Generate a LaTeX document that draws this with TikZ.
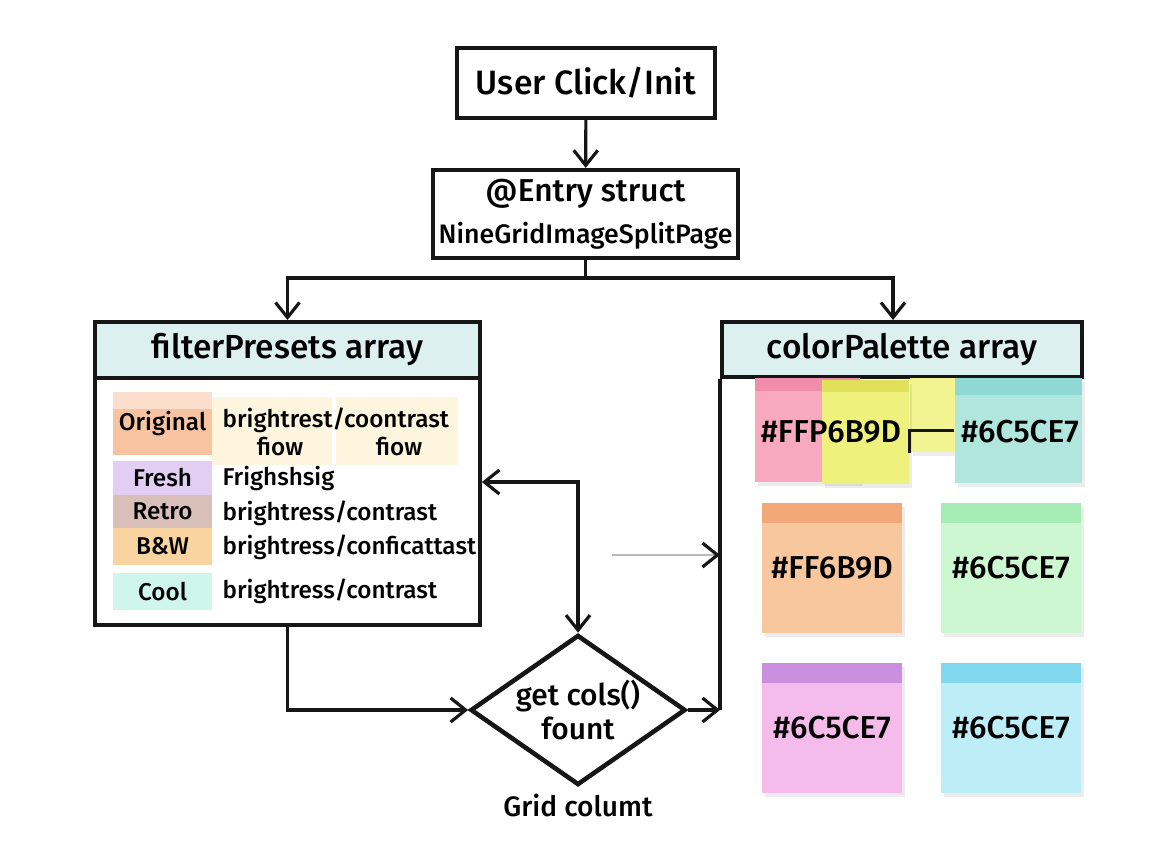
\documentclass[tikz,border=0pt]{standalone}
\usepackage{fontspec}
\setmainfont{Fira Sans}[UprightFont=* Medium,BoldFont=* Bold]
\usetikzlibrary{arrows.meta,positioning,shapes.geometric,shadows}
\definecolor{ink}{HTML}{161616}
\definecolor{headcyan}{HTML}{DDF0F0}
\definecolor{cellyellow}{HTML}{FDF5DE}
\definecolor{tagorange}{HTML}{F7C3A0}
\definecolor{tagfresh}{HTML}{E2CDF3}
\definecolor{tagretro}{HTML}{D8C0B8}
\definecolor{tagbw}{HTML}{F9D3A0}
\definecolor{tagcool}{HTML}{CFF6EA}
\definecolor{notepink}{HTML}{F9A8C2}
\definecolor{bandpink}{HTML}{F08CAC}
\definecolor{noteyellow}{HTML}{EEF27C}
\definecolor{bandyellow}{HTML}{E0E05A}
\definecolor{noteteal}{HTML}{B0E6DE}
\definecolor{bandteal}{HTML}{8FD8D3}
\definecolor{noteorange}{HTML}{F9C79E}
\definecolor{bandorange}{HTML}{F2A878}
\definecolor{notegreen}{HTML}{CDF7D1}
\definecolor{bandgreen}{HTML}{A6EDB5}
\definecolor{notelilac}{HTML}{F4BBEB}
\definecolor{bandlilac}{HTML}{CB8FDF}
\definecolor{notesky}{HTML}{BDEEF8}
\definecolor{bandsky}{HTML}{80D8EE}
\tikzset{
  box/.style={rectangle,draw=ink,fill=white,line width=1.2pt,align=center,inner sep=0pt},
  panel/.style={rectangle,draw=ink,line width=1pt,inner sep=0pt},
  head/.style={rectangle,draw=ink,fill=headcyan,line width=1.1pt,inner sep=0pt,font=\fontsize{9.5}{11}\selectfont},
  tag/.style={rectangle,inner sep=0pt,minimum width=.99cm,font=\fontsize{6.9}{8}\selectfont},
  cell/.style={rectangle,fill=cellyellow,inner sep=0pt},
  row/.style={inner sep=0pt,font=\fontsize{6.9}{8}\selectfont},
  band/.style 2 args={path picture={\fill[#1] (path picture bounding box.north west) rectangle ([yshift=-#2]path picture bounding box.north east);}},
  note/.style={rectangle,inner sep=0pt,drop shadow={opacity=.15,shadow xshift=.03cm,shadow yshift=-.04cm}},
  hex/.style={inner sep=0pt,font=\fontsize{9}{10}\selectfont},
  decision/.style={diamond,draw=ink,line width=1.3pt,fill=white,aspect=1.43,inner sep=0pt,minimum width=2.15cm,minimum height=1.5cm,align=center,font=\fontsize{8.5}{9.5}\selectfont},
  link/.style={draw=ink,line width=.9pt},
  flow/.style={link,-{Straight Barb[length=1.5mm,width=2.4mm]}},
  flowboth/.style={link,{Straight Barb[length=1.5mm,width=2.4mm]}-{Straight Barb[length=1.5mm,width=2.4mm]}},
  hint/.style={draw=gray!55,line width=.5pt,-{Straight Barb[length=1.5mm,width=2.4mm,color=ink,line width=.9pt]}},
}
\begin{document}
\begin{tikzpicture}[x=0.01cm,y=-0.01cm]
  \path[fill=white,use as bounding box] (0,0) rectangle (1152,864);

  % ---- top: entry ----
  \node[box,minimum width=2.58cm,minimum height=.70cm,font=\fontsize{9.6}{12}\selectfont] (click) at (586,83) {User Click/Init};
  \node[box,minimum width=3.05cm,minimum height=.88cm] (entry) at (585.5,214)
    {{\fontsize{9}{11}\selectfont @Entry struct}\\{\fontsize{7.6}{9}\selectfont NineGridImageSplitPage}};
  \draw[flow] (click) -- (entry);
  \coordinate (split) at (585.5,278);
  \draw[link] (entry) -- (split);

  % ---- left: filter presets ----
  \node[panel,minimum width=3.85cm,minimum height=3.03cm] (lpanel) at (287.5,473.5) {};
  \node[head,minimum width=3.85cm,minimum height=.56cm] (lhead) at (287.5,350) {filterPresets array};
  \node[cell,minimum width=1.20cm,minimum height=.68cm] (cell1) at (272,431) {};
  \node[cell,minimum width=1.22cm,minimum height=.68cm] (cell2) at (397,431) {};
  \node[tag,fill=tagorange,band={tagorange!55!white}{.17cm},minimum height=.63cm] (orig) at (162.5,423.5) {\raisebox{-.8ex}{Original}};
  \node[tag,fill=tagfresh,minimum height=.34cm] (fresh) at (162.5,478) {Fresh};
  \node[tag,fill=tagretro,minimum height=.33cm] (retro) at (162.5,511.5) {Retro};
  \node[tag,fill=tagbw,minimum height=.37cm] (bw) at (162.5,546.5) {B\&W};
  \node[tag,fill=tagcool,minimum height=.37cm] (cool) at (162.5,591.5) {Cool};
  \node[row,anchor=west] (origtxt) at (222,420) {brightrest/coontrast};
  \node[row] (fiowa) at (280,447) {fiow};
  \node[row] (fiowb) at (399,447) {fiow};
  \node[row,anchor=west] (freshtxt) at (222,478) {Frighshsig};
  \node[row,anchor=west] (retrotxt) at (222,513) {brightress/contrast};
  \node[row,anchor=west] (bwtxt) at (222,547) {brightress/conficattast};
  \node[row,anchor=west] (cooltxt) at (222,591) {brightress/contrast};

  % ---- right: colour palette ----
  \node[head,minimum width=3.60cm,minimum height=.55cm] (rhead) at (902,349.5) {colorPalette array};
  \node[note,fill=notepink,band={bandpink}{.13cm},minimum width=1.05cm,minimum height=1.04cm] (pink) at (807.5,430) {};
  \node[note,fill=noteyellow!85!white,minimum width=.45cm,minimum height=.74cm] (yelb) at (932.5,415) {};
  \node[note,fill=noteteal,band={bandteal}{.17cm},minimum width=1.27cm,minimum height=1.05cm] (teal) at (1018.5,430.5) {};
  \node[note,fill=noteyellow,band={bandyellow}{.12cm},minimum width=.87cm,minimum height=1.04cm] (yel) at (865.5,432) {};
  \draw[link] (yelb.south west) |- (teal.west);
  \node[hex] (hpink) at (831,432) {\#FFP6B9D};
  \node[hex] (hteal) at (1020,432) {\#6C5CE7};
  \foreach \nm/\cx/\cy/\fc/\bc/\txt in {orange/832/568/noteorange/bandorange/FF6B9D,
      green/1011/568/notegreen/bandgreen/6C5CE7,
      lilac/832/728/notelilac/bandlilac/6C5CE7,
      sky/1011/728/notesky/bandsky/6C5CE7}{
    \node[note,fill=\fc,band={\bc}{.2cm},minimum width=1.40cm,minimum height=1.30cm,font=\fontsize{9}{10}\selectfont] (\nm) at (\cx,\cy) {\#\txt};
  }

  % ---- bottom: column count ----
  \node[decision] (get) at (578,710) {get cols()\\fount};
  \node[below=.06cm of get,inner sep=0pt,font=\fontsize{8}{10}\selectfont] (gridlbl) {Grid columt};
  \coordinate (rfoot) at (rhead.south west |- get.east);
  \draw[link] (rhead.south west) -- (rfoot);

  % ---- connectors ----
  \draw[flow] (split) -| (lhead.north);
  \draw[flow] (split) -| ([xshift=-.09cm]rhead.north);
  \draw[flow] (lpanel.south) |- (get.west);
  \draw[flowboth] ([yshift=-.085cm]lpanel.east) -| (get.north);
  \draw[flow] (get.east) -- (rfoot);
  \coordinate (gtail) at (612,555);
  \draw[hint] (gtail) -- (gtail -| rfoot);
\end{tikzpicture}
\end{document}
